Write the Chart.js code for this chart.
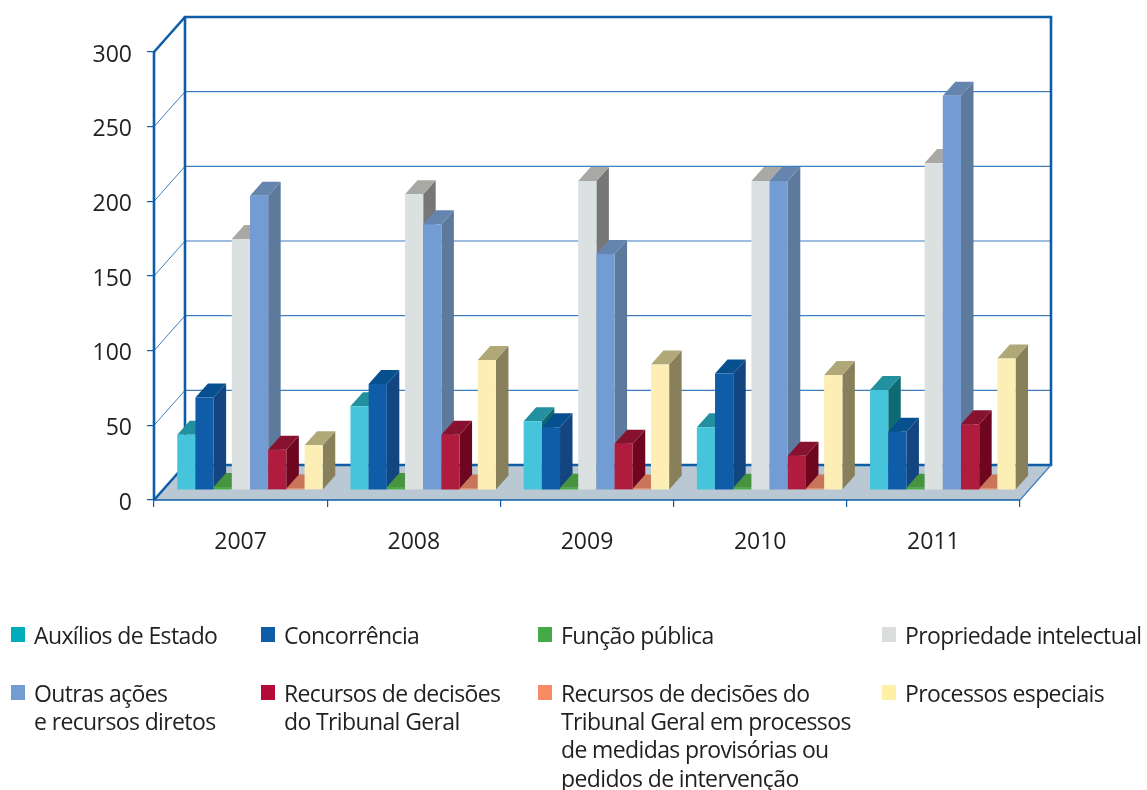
<!DOCTYPE html>
<html>
<head>
<meta charset="utf-8">
<style>
html,body{margin:0;padding:0;background:#fff;}
#wrap{position:relative;width:1147px;height:790px;overflow:hidden;}
canvas{position:absolute;left:0;top:0;}
.sw{position:absolute;width:14px;height:15px;}
.lb{position:absolute;font-family:"Open Sans",sans-serif;font-size:23px;line-height:28.2px;color:#231f20;white-space:pre;letter-spacing:-0.62px;}
</style>
<script src="https://cdn.jsdelivr.net/npm/chart.js@4"></script>
</head>
<body>
<div id="wrap"><canvas id="c" width="1147" height="790"></canvas></div>
<script>
const years = ['2007','2008','2009','2010','2011'];
const auxilios = [37,56,46,42,67];
const concorrencia = [62,71,42,78,39];
const funcaoPublica = [2,2,1.5,1.5,1.5];
const propriedade = [168,198,207,207,219];
const outras = [197,178,158,207,264];
const recursos = [27,37,31,23,44];
const recursosProv = [1,1,1,1,1];
const especiais = [30,87,84,77,88];
const yTicks = [0,50,100,150,200,250,300];

const names = ['Auxílios de Estado','Concorrência','Função pública','Propriedade intelectual',
  'Outras ações\ne recursos diretos','Recursos de decisões\ndo Tribunal Geral',
  'Recursos de decisões do\nTribunal Geral em processos\nde medidas provisórias ou\npedidos de intervenção','Processos especiais'];
const seriesValues = [auxilios,concorrencia,funcaoPublica,propriedade,outras,recursos,recursosProv,especiais];
const fronts = ['#46c4dc','#0f5ca9','#4cab47','#dbe0e0','#729cd3','#af1c3d','#f08a5d','#fdeeb5'];
const tops   = ['#23909f','#06508f','#469440','#a8a8a4','#6585af','#86122f','#c9755a','#b0a877'];
const sides  = ['#0f6b73','#134680','#3a7a35','#777777','#5d7a9c','#6f0620','#a8573f','#887f5b'];
const swatches = ['#00aebb','#0f5ca9','#43aa47','#dcdddd','#739cd3','#b40a37','#f68b66','#fff0a8'];
const swX = [11,261,538,882];
const swY = [627,685];

const BAR_SHIFT = [9.4,-10];
const BAR_DEPTH = [12.5,-14];
const WALL = [31,-35];
const BLUE = '#0f5ca9';
const GRID = '#3f7fc0';
const FLOOR = '#b9c8d3';

function line(ctx,x1,y1,x2,y2,w,c){ctx.beginPath();ctx.moveTo(x1,y1);ctx.lineTo(x2,y2);ctx.lineWidth=w;ctx.strokeStyle=c;ctx.stroke();}
function poly(ctx,pts,c){ctx.beginPath();pts.forEach((p,i)=>i?ctx.lineTo(p[0],p[1]):ctx.moveTo(p[0],p[1]));ctx.closePath();ctx.fillStyle=c;ctx.fill();}

const box3d = {
  id:'box3d',
  beforeDatasetsDraw(chart){
    const {ctx,chartArea:a,scales:{y}} = chart;
    const [wx,wy] = WALL;
    ctx.save();
    poly(ctx,[[a.left,a.bottom],[a.right,a.bottom],[a.right+wx,a.bottom+wy],[a.left+wx,a.bottom+wy]],FLOOR);
    yTicks.forEach(v=>{
      const p = y.getPixelForValue(v);
      if(v>0 && v<300){
        line(ctx,a.left,p,a.left+wx,p+wy,1,GRID);
        line(ctx,a.left+wx,p+wy,a.right+wx,p+wy,1.2,GRID);
      }
    });
    ctx.lineJoin='miter';
    ctx.beginPath();
    ctx.rect(a.left+wx,a.top+wy,a.right-a.left,a.bottom-a.top);
    ctx.lineWidth=2.6;ctx.strokeStyle=BLUE;ctx.stroke();
    line(ctx,a.left,a.top,a.left+wx,a.top+wy,2.6,BLUE);
    line(ctx,a.left,a.bottom,a.left+wx,a.bottom+wy,2.6,BLUE);
    line(ctx,a.left,a.top,a.left,a.bottom,2.6,BLUE);
    line(ctx,a.left,a.bottom,a.right,a.bottom,1.6,BLUE);
    line(ctx,a.right,a.bottom,a.right+wx,a.bottom+wy,1.2,GRID);
    ctx.restore();
  },
  // bars must paint left to right, so the library's own pass is replaced by the one below
  beforeDatasetDraw(){ return false; },
  afterDatasetsDraw(chart){
    const ctx = chart.ctx;
    const [dx,dy] = BAR_DEPTH;
    names.forEach((n,i)=>{
      const meta = chart.getDatasetMeta(i);
      ctx.save();
      ctx.translate(BAR_SHIFT[0],BAR_SHIFT[1]);
      meta.data.forEach(b=>{
        const l=b.x-b.width/2, r=b.x+b.width/2, t=b.y, bt=b.base;
        poly(ctx,[[r,t],[r+dx,t+dy],[r+dx,bt+dy],[r,bt]],sides[i]);
        poly(ctx,[[l,t],[l+dx,t+dy],[r+dx,t+dy],[r,t]],tops[i]);
      });
      meta.controller.draw();
      ctx.restore();
    });
  }
};

new Chart(document.getElementById('c'),{
  type:'bar',
  data:{
    labels:years,
    datasets:names.map((n,i)=>({
      label:n.replace(/\n/g,' '),
      data:seriesValues[i],
      backgroundColor:fronts[i],
      borderWidth:0,
      barPercentage:1,
      categoryPercentage:0.84
    }))
  },
  plugins:[box3d],
  options:{
    responsive:false,
    animation:false,
    events:[],
    layout:{padding:{left:0,top:52,right:127,bottom:0}},
    plugins:{legend:{display:false},tooltip:{enabled:false}},
    scales:{
      x:{
        afterFit(s){s.height=290;},
        offset:true,
        border:{display:false},
        grid:{offset:true,drawOnChartArea:false,drawTicks:true,tickLength:7,color:BLUE,lineWidth:1.2},
        ticks:{color:'#231f20',padding:22,maxRotation:0,font:{family:'"Open Sans"',size:23}}
      },
      y:{
        min:0,max:300,
        afterFit(s){s.width=154;},
        afterBuildTicks(s){s.ticks=yTicks.map(v=>({value:v}));},
        border:{display:false},
        grid:{drawOnChartArea:false,tickLength:7,color:BLUE,lineWidth:1.2},
        ticks:{color:'#231f20',padding:15,labelOffset:3,font:{family:'"Open Sans"',size:23}}
      }
    }
  }
});

const wrap=document.getElementById('wrap');
names.forEach((n,i)=>{
  const col=i%4,row=i<4?0:1;
  const s=document.createElement('div');s.className='sw';
  s.style.left=swX[col]+'px';s.style.top=swY[row]+'px';s.style.background=swatches[i];
  wrap.appendChild(s);
  const t=document.createElement('div');t.className='lb';
  t.style.left=(swX[col]+23)+'px';t.style.top=(swY[row]-6)+'px';t.textContent=n;
  wrap.appendChild(t);
});
</script>
</body>
</html>
